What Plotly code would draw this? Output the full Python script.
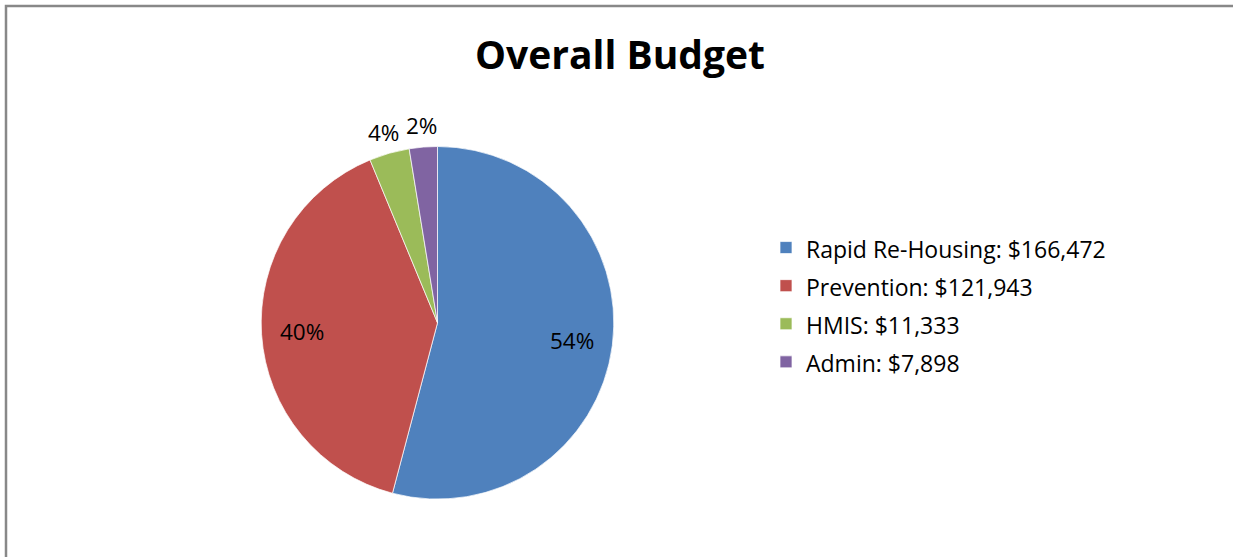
import math
import plotly.graph_objects as go

categories = ["Rapid Re-Housing", "Prevention", "HMIS", "Admin"]
amounts = [166472, 121943, 11333, 7898]
percent_labels = ["54%", "40%", "4%", "2%"]
colors = ["#4F81BD", "#C0504D", "#9BBB59", "#8064A2"]
label_inside = [True, True, False, False]

legend_labels = [f'<span style="font-size:23px">{c}: ${v:,}</span>'
                 for c, v in zip(categories, amounts)]

W, H = 1233, 557
FONT = "Open Sans"
CX, CY, R = 437.5, 322.8, 176.3   # pie centre / radius in px

fig = go.Figure()
fig.add_trace(go.Pie(
    labels=legend_labels,
    values=amounts,
    sort=False,
    direction="clockwise",
    rotation=0,
    marker=dict(colors=colors, line=dict(color="rgba(255,255,255,0.7)", width=1)),
    textinfo="none",
    domain=dict(x=[(CX - R) / W, (CX + R) / W], y=[1 - (CY + R) / H, 1 - (CY - R) / H]),
    hoverinfo="label+percent",
))

# data labels placed at each slice's mid-angle
total = sum(amounts)
cum = 0.0
annotations = []
for v, txt, inside in zip(amounts, percent_labels, label_inside):
    mid = (cum + v / 2) / total * 2 * math.pi
    cum += v
    rr = R * (0.77 if inside else 1.125)
    px = CX + rr * math.sin(mid)
    py = CY - rr * math.cos(mid)
    annotations.append(dict(x=px / W, y=1 - py / H, xref="paper", yref="paper",
                            text=txt, showarrow=False, xanchor="center", yanchor="middle",
                            font=dict(family=FONT, size=22.5, color="black")))

fig.update_layout(
    width=W, height=H,
    margin=dict(l=0, r=0, t=0, b=0),
    paper_bgcolor="white",
    title=dict(text="<b>Overall Budget</b>", x=620 / W, xanchor="center",
               y=1 - 55 / H, yanchor="middle",
               font=dict(family=FONT, size=39, color="black")),
    legend=dict(x=766 / W, xanchor="left", y=1 - 305 / H, yanchor="middle",
                font=dict(family=FONT, size=27, color="black"),
                itemclick=False, traceorder="normal"),
    annotations=annotations,
    shapes=[dict(type="rect", xref="paper", yref="paper",
                 x0=6 / W, x1=1.05, y0=-0.05, y1=1 - 6 / H,
                 line=dict(color="#888888", width=2.5))],
)

fig.write_html("out.html",
               config={"displayModeBar": False},
               post_script="document.body.style.margin='0';document.body.style.overflow='hidden';")
